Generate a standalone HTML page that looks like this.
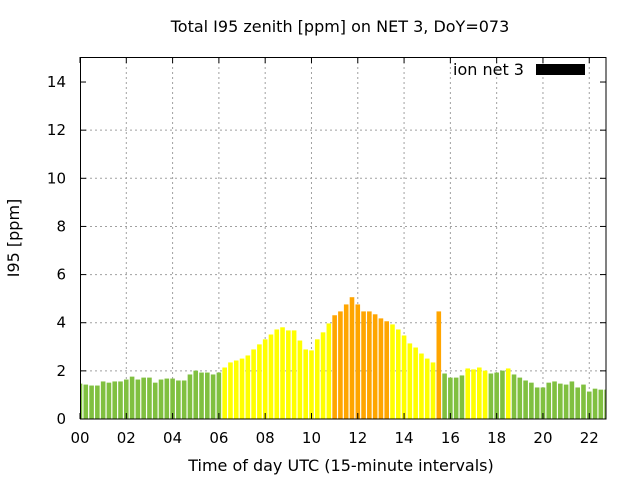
<!DOCTYPE html>
<html><head><meta charset="utf-8"><style>
html,body{margin:0;padding:0;background:#fff;width:640px;height:480px;overflow:hidden}
svg text{font-family:"DejaVu Sans","Liberation Sans",sans-serif;fill:#000}
</style></head><body>
<svg id="s" width="640" height="480" xmlns="http://www.w3.org/2000/svg">
<defs><clipPath id="c"><rect x="80" y="57" width="526" height="362"/></clipPath></defs>
<rect width="640" height="480" fill="#fff"/>
<g id="grid" stroke="#a0a0a0" stroke-width="1" stroke-dasharray="2,3"></g>
<g id="bars" clip-path="url(#c)"></g>
<rect x="80.5" y="57.5" width="525.5" height="361.5" fill="none" stroke="#000" stroke-width="1"/>
<g id="ticks" stroke="#000" stroke-width="1"></g>
<g id="labels" font-size="15"></g>
<text x="340" y="32" font-size="16" text-anchor="middle">Total I95 zenith [ppm] on NET 3, DoY=073</text>
<text x="341" y="471" font-size="16" text-anchor="middle">Time of day UTC (15-minute intervals)</text>
<text transform="translate(19,238) rotate(-90)" font-size="16" text-anchor="middle">I95 [ppm]</text>
<text x="453" y="75" font-size="16">ion net 3</text>
<rect x="536" y="64" width="49" height="11" fill="#000"/>
</svg>
<script>
var v=[1.47,1.43,1.39,1.39,1.56,1.51,1.56,1.56,1.64,1.76,1.64,1.72,1.72,1.51,1.64,1.68,1.68,1.6,1.6,1.85,2.01,1.93,1.93,1.85,1.93,
2.14,2.35,2.43,2.51,2.64,2.89,3.1,3.31,3.51,3.72,3.81,3.68,3.68,3.26,2.89,2.85,3.31,3.6,3.97,
4.31,4.47,4.76,5.06,4.76,4.47,4.47,4.35,4.18,4.06,
3.93,3.72,3.47,3.14,2.97,2.72,2.51,2.35,4.47,
1.89,1.72,1.72,1.81,2.1,2.06,2.14,2.01,1.89,1.93,2.01,2.1,
1.85,1.72,1.6,1.51,1.31,1.31,1.51,1.56,1.47,1.43,1.56,1.31,1.43,1.14,1.26,1.22,1.22];
function col(i){if(i<=24)return"#80c040";if(i<=43)return"#ffff00";if(i<=53)return"#ffa500";if(i<=61)return"#ffff00";if(i==62)return"#ffa500";if(i<=66)return"#80c040";if(i<=70)return"#ffff00";if(i<=73)return"#80c040";if(i==74)return"#ffff00";return"#80c040";}
var ns="http://www.w3.org/2000/svg",b=document.getElementById("bars"),g=document.getElementById("grid"),t=document.getElementById("ticks"),l=document.getElementById("labels");
function el(p,n,a){var e=document.createElementNS(ns,n);for(var k in a)e.setAttribute(k,a[k]);p.appendChild(e);return e;}
var dx=5.787,u=24.07;
v.forEach(function(h,i){var cx=80+i*dx;el(b,"rect",{x:cx-2.3,y:419-h*u,width:4.6,height:h*u,fill:col(i)});});
for(var k=0;k<=7;k++){var y=419-k*2*u;
 if(k>0&&k<7)el(g,"line",{x1:80,x2:606,y1:y,y2:y});
 el(t,"line",{x1:80,x2:86,y1:y,y2:y});el(t,"line",{x1:600,x2:606,y1:y,y2:y});
 var tx=el(l,"text",{x:66,y:y+5,"text-anchor":"end"});tx.textContent=String(k*2);}
for(var h=0;h<=22;h+=2){var x=80+h*4*dx;
 if(h>0)el(g,"line",{x1:x,x2:x,y1:57,y2:419});
 el(t,"line",{x1:x,x2:x,y1:413,y2:419});el(t,"line",{x1:x,x2:x,y1:57,y2:63});
 var tx=el(l,"text",{x:x,y:443,"text-anchor":"middle"});tx.textContent=(h<10?"0":"")+h;}
</script>
</body></html>
